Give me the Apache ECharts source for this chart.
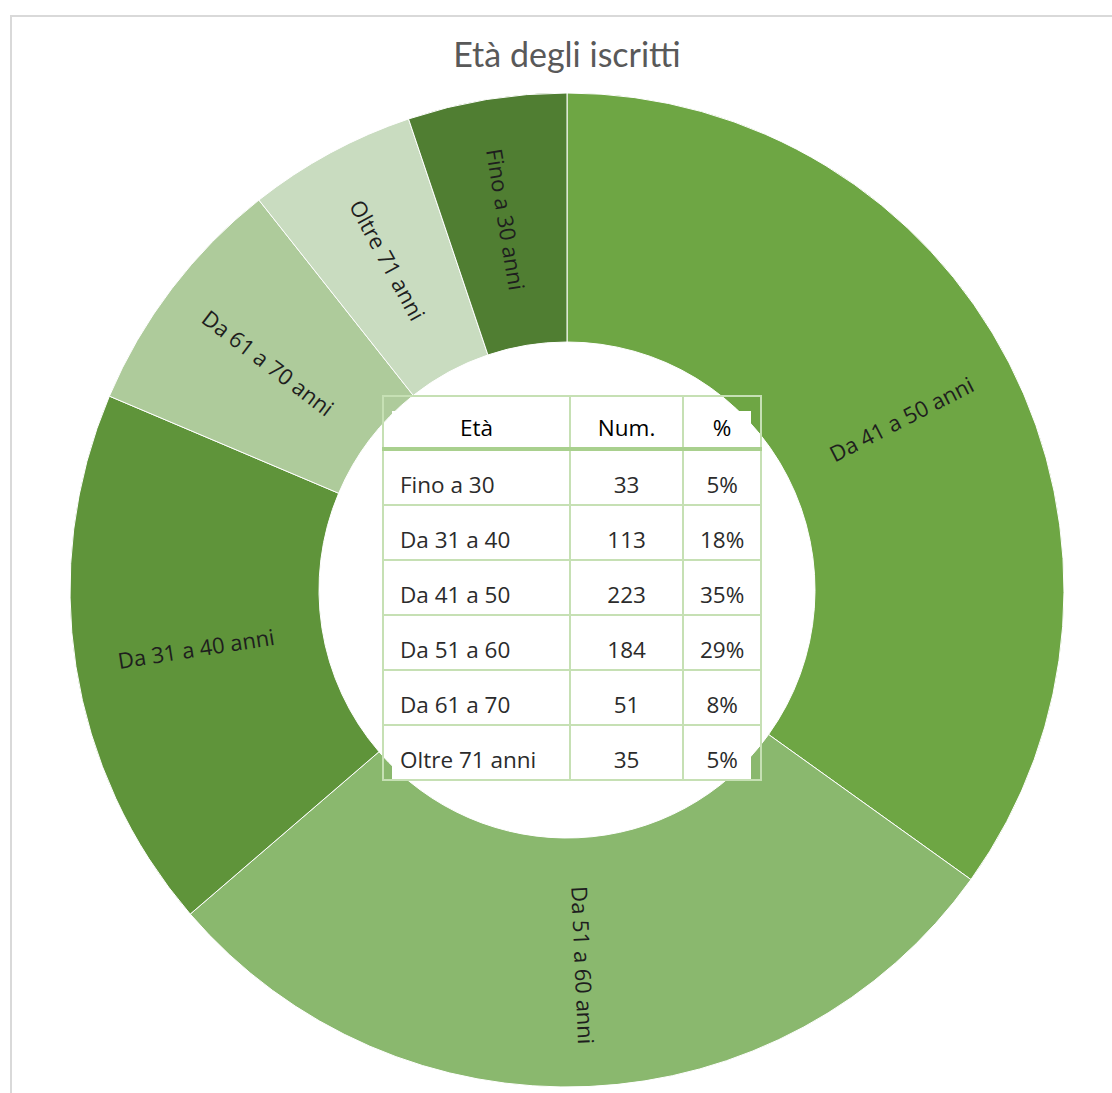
<!DOCTYPE html>
<html>
<head>
<meta charset="utf-8">
<script src="https://cdn.jsdelivr.net/npm/echarts@6/dist/echarts.min.js"></script>
<style>
  html, body { margin: 0; padding: 0; background: #fff; overflow: hidden; }
  #wrap { position: relative; width: 1112px; height: 1093px; overflow: hidden; }
  #frame {
    position: absolute; left: 10px; top: 15px; width: 1200px; height: 1200px;
    border-top: 2px solid #d9d9d9; border-left: 2px solid #d9d9d9;
  }
  #main { position: absolute; left: 0; top: 0; width: 1134px; height: 1180px; }
  #tabBox { position: absolute; left: 382px; top: 395px; width: 380px; height: 386px; }
  #tabBg { position: absolute; left: 10px; top: 16px; width: 359px; height: 369px; background: #fff; }
  #tab {
    position: absolute; left: 0; top: 0; border-collapse: collapse; table-layout: fixed;
    font-family: "Open Sans", Lato, sans-serif; font-size: 22.5px; color: #2b2b2b;
  }
  #tab td, #tab th { border: 2px solid #c6e0b4; padding: 0 0 6px 0; vertical-align: bottom; line-height: 26px; }
  #tab th { font-weight: 500; color: #000; height: 44px; padding-bottom: 6px; border-bottom: 4px solid #a9d08e; text-align: center; }
  #tab td { height: 47px; text-align: center; }
  #tab td.name { text-align: left; padding-left: 16px; }
</style>
</head>
<body>
<div id="wrap">
  <div id="frame"></div>
  <div id="main"></div>
  <div id="tabBox">
    <div id="tabBg"></div>
    <table id="tab"></table>
  </div>
</div>
<script>
// Età degli iscritti
var fasce = ['Da 41 a 50 anni', 'Da 51 a 60 anni', 'Da 31 a 40 anni', 'Da 61 a 70 anni', 'Oltre 71 anni', 'Fino a 30 anni']
var iscritti = [223, 184, 113, 51, 35, 33]
var colori = ['#6ea644', '#8ab86e', '#5f943a', '#aecb9b', '#c9dcc0', '#507e32']

// tabella al centro
var intestazione = ['Età', 'Num.', '%']
var tabEta = ['Fino a 30', 'Da 31 a 40', 'Da 41 a 50', 'Da 51 a 60', 'Da 61 a 70', 'Oltre 71 anni']
var tabNum = [33, 113, 223, 184, 51, 35]
var tabPerc = ['5%', '18%', '35%', '29%', '8%', '5%']

var html = '<colgroup><col style="width:188px"><col style="width:114px"><col style="width:78px"></colgroup>'
html += '<tr>' + intestazione.map(function (h) { return '<th>' + h + '</th>' }).join('') + '</tr>'
tabEta.forEach(function (e, i) {
  html += '<tr><td class="name">' + e + '</td><td>' + tabNum[i] + '</td><td>' + tabPerc[i] + '</td></tr>'
})
document.getElementById('tab').innerHTML = html

var myChart = echarts.init(document.getElementById('main'), null, { renderer: 'svg' })
var option = {
  animation: false,
  title: {
    text: 'Età degli iscritti',
    left: 'center',
    top: 31,
    textStyle: {
      color: '#595959',
      fontSize: 34,
      fontWeight: 'normal',
      fontFamily: 'Lato'
    }
  },
  series: [
    {
      type: 'pie',
      center: [567, 590],
      radius: [248, 497],
      startAngle: 90,
      clockwise: true,
      itemStyle: {
        borderColor: '#fff',
        borderWidth: 1
      },
      label: {
        show: true,
        position: 'inside',
        rotate: 'radial',
        color: '#1e1e1e',
        fontSize: 22,
        fontFamily: 'Open Sans',
        formatter: '{b}'
      },
      labelLine: { show: false },
      emphasis: { disabled: true },
      data: fasce.map(function (f, i) {
        return { name: f, value: iscritti[i], itemStyle: { color: colori[i] } }
      })
    }
  ]
}
myChart.setOption(option)
</script>
</body>
</html>
